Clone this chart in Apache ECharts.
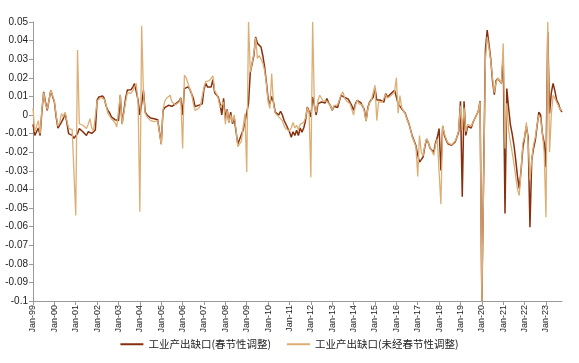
<!DOCTYPE html>
<html><head><meta charset="utf-8">
<script src="https://cdn.jsdelivr.net/npm/echarts@6/dist/echarts.min.js"></script>
<style>html,body{margin:0;padding:0;background:#fff}#c{width:579px;height:363px}</style>
</head><body><div id="c"></div>
<script>
// ---- data ----
const years = [1999,2000,2001,2002,2003,2004,2005,2006,2007,2008,2009,2010,2011,2012,2013,2014,2015,2016,2017,2018,2019,2020,2021,2022,2023];
const monthNames = ['Jan','Feb','Mar','Apr','May','Jun','Jul','Aug','Sep','Oct','Nov','Dec'];
const monthsInLastYear = 10;
const seriesNames = ['工业产出缺口(春节性调整)', '工业产出缺口(未经春节性调整)'];
const yMin = -0.1, yMax = 0.05, yStep = 0.01;

// seasonally (Spring Festival) adjusted
const saGap = [
  -0.005,-0.011,-0.011,-0.007,-0.011,0.002,0.0124,0.007,0.0025,0.008,0.0133,0.010,
  0.007,-0.001,-0.007,-0.006,-0.0038,-0.002,0.001,-0.004,-0.010,-0.011,-0.011,-0.0125,
  -0.0127,-0.010,-0.0073,-0.008,-0.009,-0.010,-0.011,-0.009,-0.0085,-0.0099,-0.009,-0.008,
  0.008,0.0097,0.0106,0.0102,0.009,0.005,0.0025,0.0012,-0.001,-0.002,-0.0025,-0.003,
  -0.003,0.0106,-0.0047,-0.004,0.009,0.0135,0.0139,0.0136,0.015,0.0169,0.0169,0.008,
  0.000,0.006,0.0133,0.0016,0.000,0.0008,-0.0016,-0.002,-0.002,-0.002,-0.0025,-0.003,
  -0.0155,0.0025,0.004,0.0045,0.0052,0.006,0.0047,0.005,0.006,0.0061,0.0075,0.0092,
  0.000,0.0142,0.0142,0.0151,0.0139,0.0133,0.009,0.0045,0.005,0.0052,0.006,0.006,
  0.014,0.017,0.015,0.014,0.015,0.019,0.012,0.013,0.0097,0.006,0.000,0.009,
  -0.002,0.003,-0.004,0.0016,-0.0047,-0.002,-0.009,-0.0155,-0.013,-0.0136,-0.008,-0.0038,
  -0.004,0.0063,0.023,0.0232,0.032,0.042,0.0385,0.0375,0.0366,0.032,0.026,0.018,
  0.0088,0.006,0.010,0.007,0.0015,0.0008,0.000,0.002,0.000,-0.003,-0.005,-0.007,
  -0.009,-0.012,-0.009,-0.011,-0.0082,-0.011,-0.007,-0.0092,-0.007,-0.003,0.0043,0.002,
  -0.001,0.0097,0.0052,0.000,0.0061,0.006,0.007,0.0065,0.0065,0.0088,0.0065,0.005,
  0.0025,0.0047,0.005,0.004,0.0075,0.0106,0.0112,0.0095,0.0088,0.0085,0.0079,0.005,
  0.0025,0.006,0.0079,0.007,0.0067,0.006,0.003,-0.003,0.004,0.007,0.008,0.0095,
  0.0145,0.008,0.0085,0.008,0.0075,0.007,0.0115,0.0097,0.0095,0.0115,0.0124,0.0133,
  0.0133,0.006,0.007,0.0034,0.0025,0.001,-0.002,-0.0045,-0.008,-0.0115,-0.014,-0.0165,
  -0.0217,-0.0253,-0.024,-0.0226,-0.017,-0.013,-0.015,-0.018,-0.019,-0.020,-0.015,-0.012,
  -0.0073,-0.0298,-0.006,-0.011,-0.0135,-0.0155,-0.0163,-0.0163,-0.016,-0.0145,-0.012,-0.009,
  0.0074,-0.044,0.0074,-0.011,-0.006,-0.0065,-0.007,-0.004,-0.002,-0.001,0.002,0.0074,
  -0.1,-0.1,0.035,0.0456,0.038,0.030,0.018,0.011,0.0185,0.0196,0.019,0.017,
  0.032,-0.053,0.0142,0.004,-0.005,-0.010,-0.016,-0.024,-0.033,-0.0396,-0.030,-0.018,
  -0.012,-0.006,-0.012,-0.0604,-0.0244,-0.018,-0.0136,-0.006,0.0016,0.000,-0.010,-0.015,
  -0.028,0.0448,0.0008,0.012,0.017,0.013,0.008,0.006,0.003,0.0016
];

// not adjusted
const nsaGap = [
  0.0036,-0.009,-0.008,-0.003,-0.010,0.003,0.012,0.006,0.003,0.008,0.0133,0.0105,
  0.0075,0.000,-0.006,-0.004,0.0008,-0.001,0.0015,-0.003,-0.007,-0.0075,-0.008,-0.009,
  -0.054,0.035,-0.0047,-0.005,-0.0055,-0.006,-0.0073,-0.005,-0.002,-0.007,-0.0085,-0.009,
  0.0075,0.0085,0.0095,0.0095,0.0085,0.0055,0.001,0.000,-0.002,-0.003,-0.004,-0.0065,
  -0.0065,0.011,-0.005,-0.005,0.007,0.012,0.013,0.0117,0.013,0.015,0.0169,0.006,
  -0.052,0.048,0.012,0.001,-0.001,0.000,-0.003,-0.003,-0.0035,-0.003,-0.003,-0.004,
  -0.016,0.003,0.0074,0.009,0.008,0.0106,0.007,0.006,0.0055,0.006,0.007,0.009,
  -0.018,0.0214,0.020,0.019,0.014,0.012,0.006,0.0025,0.0035,0.0035,0.005,0.006,
  0.015,0.018,0.019,0.0185,0.019,0.021,0.013,0.0115,0.009,0.004,0.003,0.007,
  -0.005,0.0025,-0.004,0.000,-0.004,0.000,-0.008,-0.017,-0.0155,-0.014,-0.0064,0.0008,
  -0.0307,0.050,0.023,0.023,0.033,0.0415,0.0304,0.032,0.030,0.028,0.024,0.017,
  0.007,0.0035,0.0223,0.006,0.001,0.000,-0.001,0.000,-0.003,-0.006,-0.0075,-0.0085,
  -0.0085,-0.007,-0.004,-0.007,-0.0055,-0.008,-0.005,-0.006,-0.004,-0.0015,0.004,0.0015,
  -0.0334,0.050,0.004,0.0015,0.0079,0.0106,0.009,0.0075,0.007,0.0075,0.0075,0.005,
  0.0025,0.005,0.0055,0.0055,0.008,0.011,0.0124,0.009,0.0075,0.0065,0.006,0.003,
  0.000,0.005,0.008,0.006,0.006,0.0055,0.002,-0.0035,0.0035,0.0065,0.008,0.009,
  0.016,-0.003,0.007,0.008,0.007,0.0065,0.011,0.009,0.009,0.0105,0.0115,0.0125,
  0.020,0.001,0.0105,0.004,0.003,0.0005,-0.0025,-0.0045,-0.008,-0.012,-0.0145,-0.017,
  -0.033,-0.011,-0.020,-0.022,-0.016,-0.0127,-0.015,-0.018,-0.0195,-0.0217,-0.016,-0.013,
  -0.0127,-0.048,-0.0056,-0.010,-0.013,-0.015,-0.016,-0.016,-0.015,-0.014,-0.012,-0.008,
  0.005,-0.008,0.004,-0.009,-0.005,-0.006,-0.006,-0.004,-0.002,-0.001,0.002,0.007,
  -0.1,-0.1,0.030,0.042,0.036,0.029,0.020,0.012,0.0175,0.020,0.0195,0.017,
  0.0385,-0.018,0.0063,-0.008,-0.0145,-0.020,-0.026,-0.033,-0.040,-0.0433,-0.030,-0.015,
  -0.012,-0.004,-0.015,-0.035,-0.024,-0.016,-0.012,-0.005,0.000,-0.002,-0.010,-0.020,
  -0.055,0.050,-0.020,0.000,0.0106,0.009,0.007,0.005,0.003,0.0025
];

// ---- build categories ----
const categories = [];
years.forEach((y, yi) => {
  const n = (yi === years.length - 1) ? monthsInLastYear : 12;
  for (let m = 0; m < n; m++) categories.push(monthNames[m] + '-' + String(y).slice(2));
});

const chart = echarts.init(document.getElementById('c'), null, {renderer: 'canvas'});
const isYearStart = (i) => i % 12 === 0;
chart.setOption({
  animation: false,
  backgroundColor: '#ffffff',
  grid: {left: 33, right: 17, top: 22, bottom: 62, containLabel: false},
  legend: {
    top: 334, left: 'center',
    icon: 'rect', itemWidth: 23, itemHeight: 2, itemGap: 16,
    textStyle: {fontSize: 10.5, color: '#222', fontFamily: '"Noto Sans CJK SC", sans-serif'},
    data: seriesNames
  },
  xAxis: {
    type: 'category', data: categories, boundaryGap: false,
    axisLine: {onZero: false, lineStyle: {color: '#9a9a9a', width: 1}},
    axisTick: {interval: (i) => isYearStart(i), length: 4, lineStyle: {color: '#9a9a9a'}},
    axisLabel: {interval: (i) => isYearStart(i), rotate: 90, fontSize: 9, color: '#222',
      fontFamily: '"Liberation Sans", Arial, sans-serif', margin: 4},
    splitLine: {show: false}
  },
  yAxis: {
    type: 'value', min: yMin, max: yMax, interval: yStep,
    axisLine: {show: true, lineStyle: {color: '#9a9a9a', width: 1}},
    axisTick: {show: true, length: 4, lineStyle: {color: '#9a9a9a'}},
    axisLabel: {fontSize: 10, color: '#222', margin: 5,
      fontFamily: '"Liberation Sans", Arial, sans-serif',
      formatter: (v) => String(Number(v.toFixed(2)))},
    splitLine: {show: false}
  },
  series: [
    {name: seriesNames[0], type: 'line', data: saGap, showSymbol: false, symbol: 'none',
      lineStyle: {color: '#86300f', width: 1.5}, itemStyle: {color: '#86300f'}},
    {name: seriesNames[1], type: 'line', data: nsaGap, showSymbol: false, symbol: 'none',
      lineStyle: {color: '#dcae76', width: 1.3}, itemStyle: {color: '#dcae76'}}
  ]
});
</script>
</body></html>
